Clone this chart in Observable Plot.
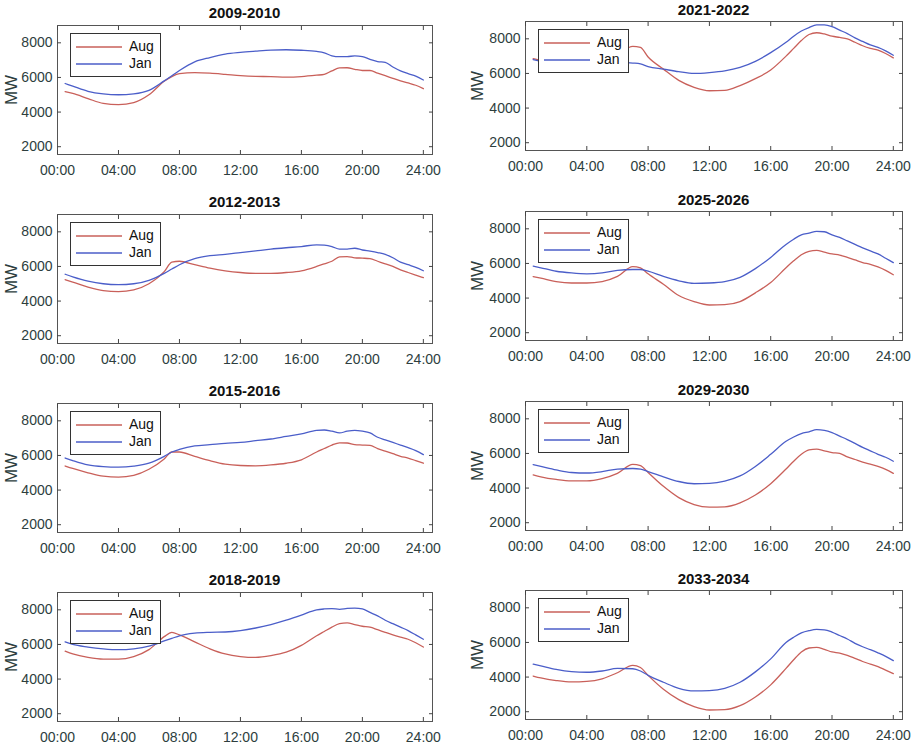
<!DOCTYPE html>
<html>
<head>
<meta charset="utf-8">
<script src="https://cdn.jsdelivr.net/npm/d3@7"></script>
<script src="https://cdn.jsdelivr.net/npm/@observablehq/plot@0.6"></script>
<style>
  body { margin: 0; background: #fff; font-family: "Liberation Sans", Arial, sans-serif; }
  #wrap { position: relative; width: 913px; height: 745px; }
  .panel { position: absolute; }
  .title { position: absolute; font-weight: bold; font-size: 15px; color: #111; text-align: center; width: 200px; }
  .legend { position: absolute; border: 1px solid #333; background: #fff; font-size: 14px; color: #111; padding: 4px 6px 4px 4px; line-height: 17px; }
  .legend div { display: flex; align-items: center; }
  .legend svg { margin-right: 6px; }
  .ylab { position: absolute; width: 40px; height: 20px; line-height: 20px; text-align: center; transform: rotate(-90deg); font-size: 17px; }
</style>
</head>
<body>
<div id="wrap"></div>
<script>
const hours = [0.5,1,2,3,4,5,6,7,7.5,8,9,10,11,12,13,14,15,16,17,17.5,18,18.5,19,19.5,20,20.5,21,21.5,22,22.5,23,23.5,24];
const titles = ["2009-2010","2021-2022","2012-2013","2025-2026","2015-2016","2029-2030","2018-2019","2033-2034"];
const seriesNames = ["Aug","Jan"];
const yTicks = [2000,4000,6000,8000];
const xTicks = [0,4,8,12,16,20,24];

const aug2009 = [5180,5080,4780,4500,4430,4550,5000,5780,6050,6220,6280,6250,6180,6100,6060,6050,6020,6050,6130,6180,6380,6550,6560,6470,6400,6400,6250,6100,5950,5800,5680,5550,5350];
const jan2009 = [5650,5500,5200,5050,5000,5050,5250,5800,6100,6400,6900,7150,7350,7450,7520,7580,7600,7570,7500,7420,7250,7200,7200,7250,7200,7050,6920,6870,6600,6380,6220,6080,5850];
const aug2021 = [6850,6750,6680,6650,6680,6800,7100,7560,7500,6950,6250,5600,5200,5000,5020,5300,5700,6200,7000,7450,7900,8250,8350,8280,8150,8080,8000,7800,7600,7450,7350,7150,6900];
const jan2021 = [6800,6720,6700,6680,6650,6650,6650,6600,6550,6400,6250,6100,6000,6050,6150,6350,6700,7200,7800,8150,8450,8650,8800,8800,8700,8500,8300,8050,7850,7650,7500,7300,7050];
const aug2012 = [5240,5100,4800,4600,4550,4650,5000,5700,6250,6300,6100,5900,5750,5650,5600,5600,5650,5750,6000,6150,6300,6550,6570,6500,6480,6450,6300,6150,6000,5800,5650,5500,5350];
const jan2012 = [5550,5400,5150,5000,4950,5000,5200,5600,5850,6100,6450,6620,6700,6800,6900,7000,7080,7150,7250,7230,7150,7000,7000,7050,6950,6880,6800,6700,6500,6250,6100,5950,5750];
const aug2025 = [5240,5150,4950,4870,4870,4950,5250,5820,5750,5400,4800,4150,3800,3600,3620,3800,4300,4900,5750,6150,6500,6700,6750,6650,6550,6480,6350,6200,6050,5950,5800,5600,5350];
const jan2025 = [5850,5750,5550,5450,5400,5450,5600,5650,5650,5550,5250,5000,4850,4870,4950,5200,5700,6350,7100,7400,7650,7750,7850,7830,7650,7500,7300,7100,6900,6720,6550,6300,6050];
const aug2015 = [5390,5250,5000,4800,4750,4850,5200,5800,6200,6200,5950,5700,5500,5420,5400,5450,5550,5750,6200,6400,6600,6730,6720,6620,6600,6580,6400,6250,6100,5950,5850,5700,5550];
const jan2015 = [5850,5700,5450,5350,5320,5380,5550,5950,6200,6350,6550,6620,6700,6750,6850,6950,7100,7250,7450,7470,7400,7300,7400,7450,7400,7300,7050,6900,6750,6600,6450,6280,6050];
const aug2029 = [4760,4650,4500,4420,4420,4550,4850,5370,5300,4900,4100,3450,3050,2900,2920,3150,3600,4250,5100,5550,5950,6200,6250,6150,6050,6000,5800,5650,5500,5380,5250,5080,4850];
const jan2029 = [5350,5250,5050,4900,4870,4950,5100,5130,5100,4950,4650,4380,4250,4270,4400,4700,5250,5950,6700,6950,7150,7250,7370,7330,7200,7000,6800,6580,6350,6150,5950,5780,5550];
const aug2018 = [5610,5450,5250,5150,5150,5300,5700,6450,6700,6550,6150,5750,5450,5300,5250,5350,5550,5950,6500,6750,7000,7200,7250,7150,7050,7000,6850,6700,6550,6420,6300,6100,5850];
const jan2018 = [6150,6000,5850,5750,5700,5750,5900,6200,6350,6500,6650,6700,6720,6800,6950,7150,7400,7700,8000,8050,8070,8030,8080,8100,8050,7850,7650,7400,7200,7000,6800,6550,6300];
const aug2033 = [4060,3950,3800,3720,3750,3900,4250,4680,4550,4100,3300,2700,2300,2100,2120,2350,2850,3550,4500,5000,5450,5680,5720,5600,5450,5380,5250,5080,4900,4750,4600,4400,4200];
const jan2033 = [4750,4650,4450,4320,4280,4350,4500,4480,4350,4100,3700,3350,3200,3220,3350,3700,4300,5050,6000,6300,6550,6680,6750,6730,6600,6400,6200,5950,5750,5580,5400,5200,4950];

const augSeries = [aug2009,aug2021,aug2012,aug2025,aug2015,aug2029,aug2018,aug2033];
const janSeries = [jan2009,jan2021,jan2012,jan2025,jan2015,jan2029,jan2018,jan2033];

const colors = ["#c9605a","#4b5ec9"];
const axisColor = "#2d3e3e";

const leftX = [0, 468];
const plotW = [375, 377];
const topY = [[0, 189, 378, 567], [-4, -3, -2, -2]];

const wrap = document.getElementById("wrap");
const mTop = 25, mLeft = 57, plotH = 129;

titles.forEach((t, i) => {
  const col = i % 2, row = Math.floor(i / 2);
  const data = [];
  hours.forEach((h, k) => {
    data.push({h, v: augSeries[i][k], s: seriesNames[0]});
    data.push({h, v: janSeries[i][k], s: seriesNames[1]});
  });
  const chart = Plot.plot({
    width: mLeft + plotW[col] + 11,
    height: 190,
    marginLeft: mLeft,
    marginRight: 11,
    marginTop: mTop,
    marginBottom: 190 - mTop - plotH,
    style: {fontFamily: "'Liberation Sans', Arial, sans-serif", fontSize: "14px", color: axisColor, background: "transparent"},
    x: {domain: [0, 24.6]},
    y: {domain: [1550, 9000]},
    color: {domain: seriesNames, range: colors},
    marks: [
      Plot.frame({stroke: "#555", strokeWidth: 1}),
      Plot.axisX({ticks: xTicks, tickSize: -4, tickPadding: 15, tickFormat: d => String(d).padStart(2, "0") + ":00", label: null, fontSize: 14, stroke: "#444"}),
      Plot.axisX({anchor: "top", ticks: xTicks, tickSize: -4, tickFormat: () => "", label: null, stroke: "#444"}),
      Plot.axisY({ticks: yTicks, tickSize: -4, tickPadding: 9, tickFormat: d => String(d), label: null, fontSize: 14, stroke: "#444"}),
      Plot.axisY({anchor: "right", ticks: yTicks, tickSize: -4, tickFormat: () => "", label: null, stroke: "#444"}),
      Plot.line(data, {x: "h", y: "v", stroke: "s", z: "s", strokeWidth: 1.3, curve: "monotone-x"})
    ]
  });
  const panel = document.createElement("div");
  panel.className = "panel";
  panel.style.left = leftX[col] + "px";
  panel.style.top = (topY[0][row] + topY[1][row] * col) + "px";
  panel.appendChild(chart);

  const yl = document.createElement("div");
  yl.className = "ylab";
  yl.textContent = "MW";
  yl.style.left = (12 + (col ? -2 : 0) - 20) + "px";
  yl.style.top = (mTop + plotH / 2 - 10) + "px";
  yl.style.color = axisColor;
  panel.appendChild(yl);

  const tt = document.createElement("div");
  tt.className = "title";
  tt.textContent = t;
  tt.style.left = (mLeft + plotW[col] / 2 - 100) + "px";
  tt.style.top = (col ? "5px" : "4px");
  panel.appendChild(tt);

  const lg = document.createElement("div");
  lg.className = "legend";
  lg.style.left = (mLeft + 13) + "px";
  lg.style.top = (mTop + 8) + "px";
  seriesNames.forEach((n, j) => {
    const r = document.createElement("div");
    r.innerHTML = `<svg width="48" height="10"><line x1="1" x2="47" y1="5" y2="5" stroke="${colors[j]}" stroke-width="1.3"/></svg><span>${n}</span>`;
    lg.appendChild(r);
  });
  panel.appendChild(lg);

  wrap.appendChild(panel);
});
</script>
</body>
</html>
